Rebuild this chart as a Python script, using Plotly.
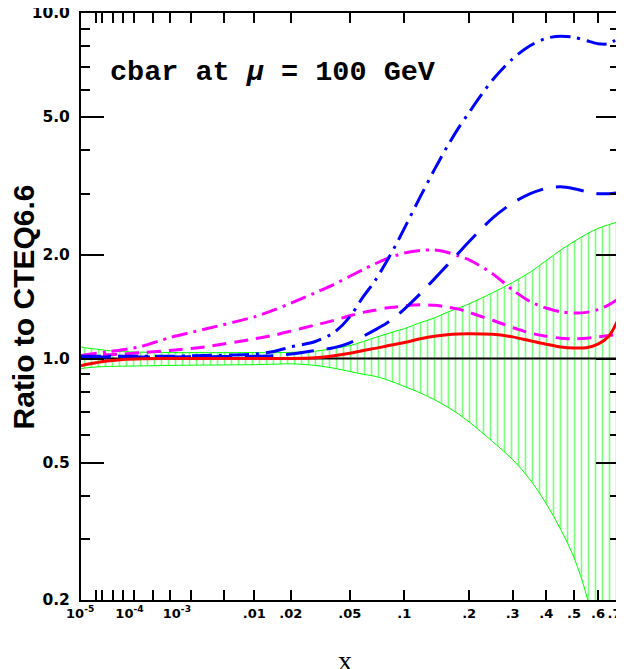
import math
import plotly.graph_objects as go

# ---------------- data ----------------
x_vals = [1e-6, 3e-6, 1e-5, 3e-5, 1e-4, 3e-4, 1e-3, 3e-3, 0.01, 0.015, 0.02, 0.03,
          0.04, 0.05, 0.06, 0.07, 0.08, 0.09, 0.1, 0.12, 0.14, 0.16, 0.18, 0.2,
          0.25, 0.3, 0.35, 0.4, 0.45, 0.5, 0.55, 0.6, 0.65, 0.7]

band_upper = [1.08, 1.072, 1.065, 1.055, 1.047, 1.043, 1.04, 1.04, 1.04, 1.04, 1.042, 1.05,
              1.07, 1.09, 1.12, 1.15, 1.175, 1.2, 1.22, 1.27, 1.31, 1.36, 1.40, 1.44,
              1.55, 1.66, 1.78, 1.92, 2.06, 2.18, 2.29, 2.38, 2.44, 2.49]

band_lower = [0.935, 0.94, 0.945, 0.948, 0.95, 0.952, 0.955, 0.957, 0.96, 0.963, 0.965, 0.955,
              0.937, 0.917, 0.90, 0.888, 0.87, 0.85, 0.83, 0.795, 0.76, 0.725, 0.69, 0.655,
              0.575, 0.51, 0.445, 0.38, 0.32, 0.265, 0.207, 0.15, 0.105, 0.07]

red_solid = [0.953, 0.962, 0.972, 0.983, 0.994, 0.999, 1.0, 1.0, 1.0, 1.0, 1.0, 1.005,
             1.018, 1.035, 1.055, 1.07, 1.085, 1.10, 1.112, 1.14, 1.16, 1.172, 1.178, 1.18,
             1.175, 1.155, 1.125, 1.10, 1.08, 1.072, 1.075, 1.10, 1.16, 1.31]

magenta_dashdot = [1.02, 1.027, 1.035, 1.045, 1.06, 1.085, 1.15, 1.215, 1.32, 1.385, 1.445, 1.55,
                   1.64, 1.73, 1.81, 1.88, 1.94, 1.985, 2.02, 2.055, 2.06, 2.03, 1.98, 1.93,
                   1.76, 1.58, 1.46, 1.40, 1.365, 1.355, 1.36, 1.385, 1.43, 1.49]

magenta_dashed = [1.015, 1.018, 1.02, 1.025, 1.03, 1.04, 1.055, 1.08, 1.14, 1.17, 1.2, 1.25,
                  1.29, 1.33, 1.36, 1.38, 1.40, 1.41, 1.42, 1.43, 1.425, 1.41, 1.39, 1.36,
                  1.29, 1.23, 1.185, 1.16, 1.145, 1.14, 1.145, 1.155, 1.165, 1.175]

blue_dashdot = [1.015, 1.015, 1.015, 1.015, 1.015, 1.015, 1.015, 1.02, 1.03, 1.05, 1.08, 1.12,
                1.19, 1.32, 1.51, 1.68, 1.89, 2.12, 2.38, 2.94, 3.52, 4.1, 4.65, 5.16,
                6.4, 7.37, 8.05, 8.45, 8.57, 8.5, 8.32, 8.15, 8.15, 8.5]

blue_dashed = [1.01, 1.01, 1.01, 1.01, 1.01, 1.01, 1.01, 1.012, 1.015, 1.02, 1.03, 1.055,
               1.075, 1.11, 1.16, 1.21, 1.26, 1.32, 1.39, 1.54, 1.70, 1.86, 2.02, 2.18,
               2.55, 2.82, 3.0, 3.11, 3.14, 3.1, 3.04, 3.0, 3.0, 3.02]

ref_x = [1e-6, 0.7]
ref_y = [1.0, 1.0]

NB = "\u00a0"
x_tick_vals = [1e-5, 1e-4, 1e-3, 0.01, 0.02, 0.05, 0.1, 0.2, 0.3, 0.4, 0.5, 0.6, 0.7]
x_tick_text = ["10<sup>-5</sup>" + NB * 7, NB * 3 + "10<sup>-4</sup>", NB * 3 + "10<sup>-3</sup>",
               ".01", ".02", ".05", ".1", ".2", ".3", ".4", ".5", ".6", ".7" + NB * 2]
x_minor_vals = [2e-5, 5e-5, 2e-4, 5e-4, 2e-3, 5e-3]
x_decade_vals = [1e-5, 1e-4, 1e-3, 0.01, 0.1]

y_tick_vals = [0.2, 0.5, 1.0, 2.0, 5.0, 10.0]
y_tick_text = ["0.2", "0.5", "1.0", "2.0", "5.0", "10.0"]
y_minor_vals = [0.3, 0.4, 0.6, 0.7, 0.8, 0.9, 3, 4, 6, 7, 8, 9]

x_min, x_max = 1e-6, 0.7
y_min, y_max = 0.2, 10.0

# ---------------- x-axis scale: x^(1/4) ----------------
P = 0.25
def xs(v):
    return [a ** P for a in v]

fig = go.Figure()

# uncertainty band (hatched)
fig.add_trace(go.Scatter(x=xs(x_vals), y=band_lower, mode="lines",
                         line=dict(color="#00ff00", width=1, shape="spline"),
                         showlegend=False, hoverinfo="skip"))
fig.add_trace(go.Scatter(x=xs(x_vals), y=band_upper, mode="lines", fill="tonexty",
                         fillcolor="rgba(0,0,0,0)",
                         fillpattern=dict(shape="|", size=7, solidity=0.24,
                                          fgcolor="#00ff00", bgcolor="rgba(255,255,255,0)"),
                         line=dict(color="#00ff00", width=1, shape="spline"),
                         showlegend=False, hoverinfo="skip"))
# reference line at 1
fig.add_trace(go.Scatter(x=xs(ref_x), y=ref_y, mode="lines",
                         line=dict(color="black", width=2), showlegend=False))

curves = [
    (magenta_dashdot, "#ff00ff", "16px,6px,3px,6px"),
    (magenta_dashed, "#ff00ff", "14px,8px"),
    (blue_dashdot, "#0000ff", "20px,7px,3px,7px"),
    (blue_dashed, "#0000ff", "28px,13px"),
    (red_solid, "#ff0000", "solid"),
]
for yv, col, dash in curves:
    fig.add_trace(go.Scatter(x=xs(x_vals), y=yv, mode="lines",
                             line=dict(color=col, width=3, dash=dash, shape="spline", smoothing=0.8),
                             showlegend=False))

tick_font_x = dict(family="DejaVu Sans", size=13, color="black", weight="bold")
tick_font_y = dict(family="DejaVu Sans", size=15.5, color="black", weight="bold")

# the page body adds an 8px offset; the figure is sized so the plot sits where the reference has it
fig.update_layout(
    width=616, height=661,
    margin=dict(l=73, r=5, t=5, b=69, autoexpand=False),
    paper_bgcolor="white", plot_bgcolor="white",
    showlegend=False,
    xaxis=dict(range=[x_min ** P, x_max ** P], tickmode="array",
               tickvals=xs(x_tick_vals), ticktext=x_tick_text, tickangle=0,
               ticks="inside", ticklen=10, tickwidth=2, tickcolor="black",
               showline=True, linewidth=2, linecolor="black", mirror="ticks",
               showgrid=False, zeroline=False, tickfont=tick_font_x, automargin=False,
               ticklabeloverflow="allow",
               minor=dict(tickmode="array", tickvals=xs(x_minor_vals), ticks="inside",
                          ticklen=10, tickwidth=2, tickcolor="black", showgrid=False)),
    xaxis2=dict(range=[x_min ** P, x_max ** P], overlaying="x", anchor="y", side="bottom",
                tickmode="array", tickvals=xs(x_decade_vals), showticklabels=False,
                ticks="inside", ticklen=20, tickwidth=2, tickcolor="black",
                showline=True, linewidth=2, linecolor="black", mirror="ticks",
                showgrid=False, zeroline=False, automargin=False),
    yaxis=dict(type="log", range=[math.log10(y_min), math.log10(y_max)],
               tickmode="array", tickvals=y_tick_vals, ticktext=y_tick_text,
               ticks="inside", ticklen=23, tickwidth=2, tickcolor="black",
               showline=True, linewidth=2, linecolor="black", mirror="ticks",
               showgrid=False, zeroline=False, tickfont=tick_font_y,
               ticklabelstandoff=6, automargin=False, ticklabeloverflow="allow",
               minor=dict(tickmode="array", tickvals=y_minor_vals, ticks="inside",
                          ticklen=9, tickwidth=2, tickcolor="black", showgrid=False)),
)

fig.add_annotation(text="cbar at <i>\u03bc</i> = 100 GeV", xref="paper", yref="paper",
                   x=0.05, y=0.898, xanchor="left", yanchor="middle", showarrow=False,
                   font=dict(family="Liberation Mono", size=28.5, color="black", weight="bold"))
fig.add_annotation(text="Ratio to CTEQ6.6", xref="paper", yref="paper",
                   x=-0.106, y=0.5, xanchor="center", yanchor="middle", textangle=-90,
                   showarrow=False,
                   font=dict(family="Liberation Sans", size=30, color="black", weight="bold"))
fig.add_annotation(text="x", xref="paper", yref="paper",
                   x=0.49, y=-0.103, xanchor="center", yanchor="middle", showarrow=False,
                   font=dict(family="Liberation Serif", size=28, color="black"))

fig.write_html("out.html")
